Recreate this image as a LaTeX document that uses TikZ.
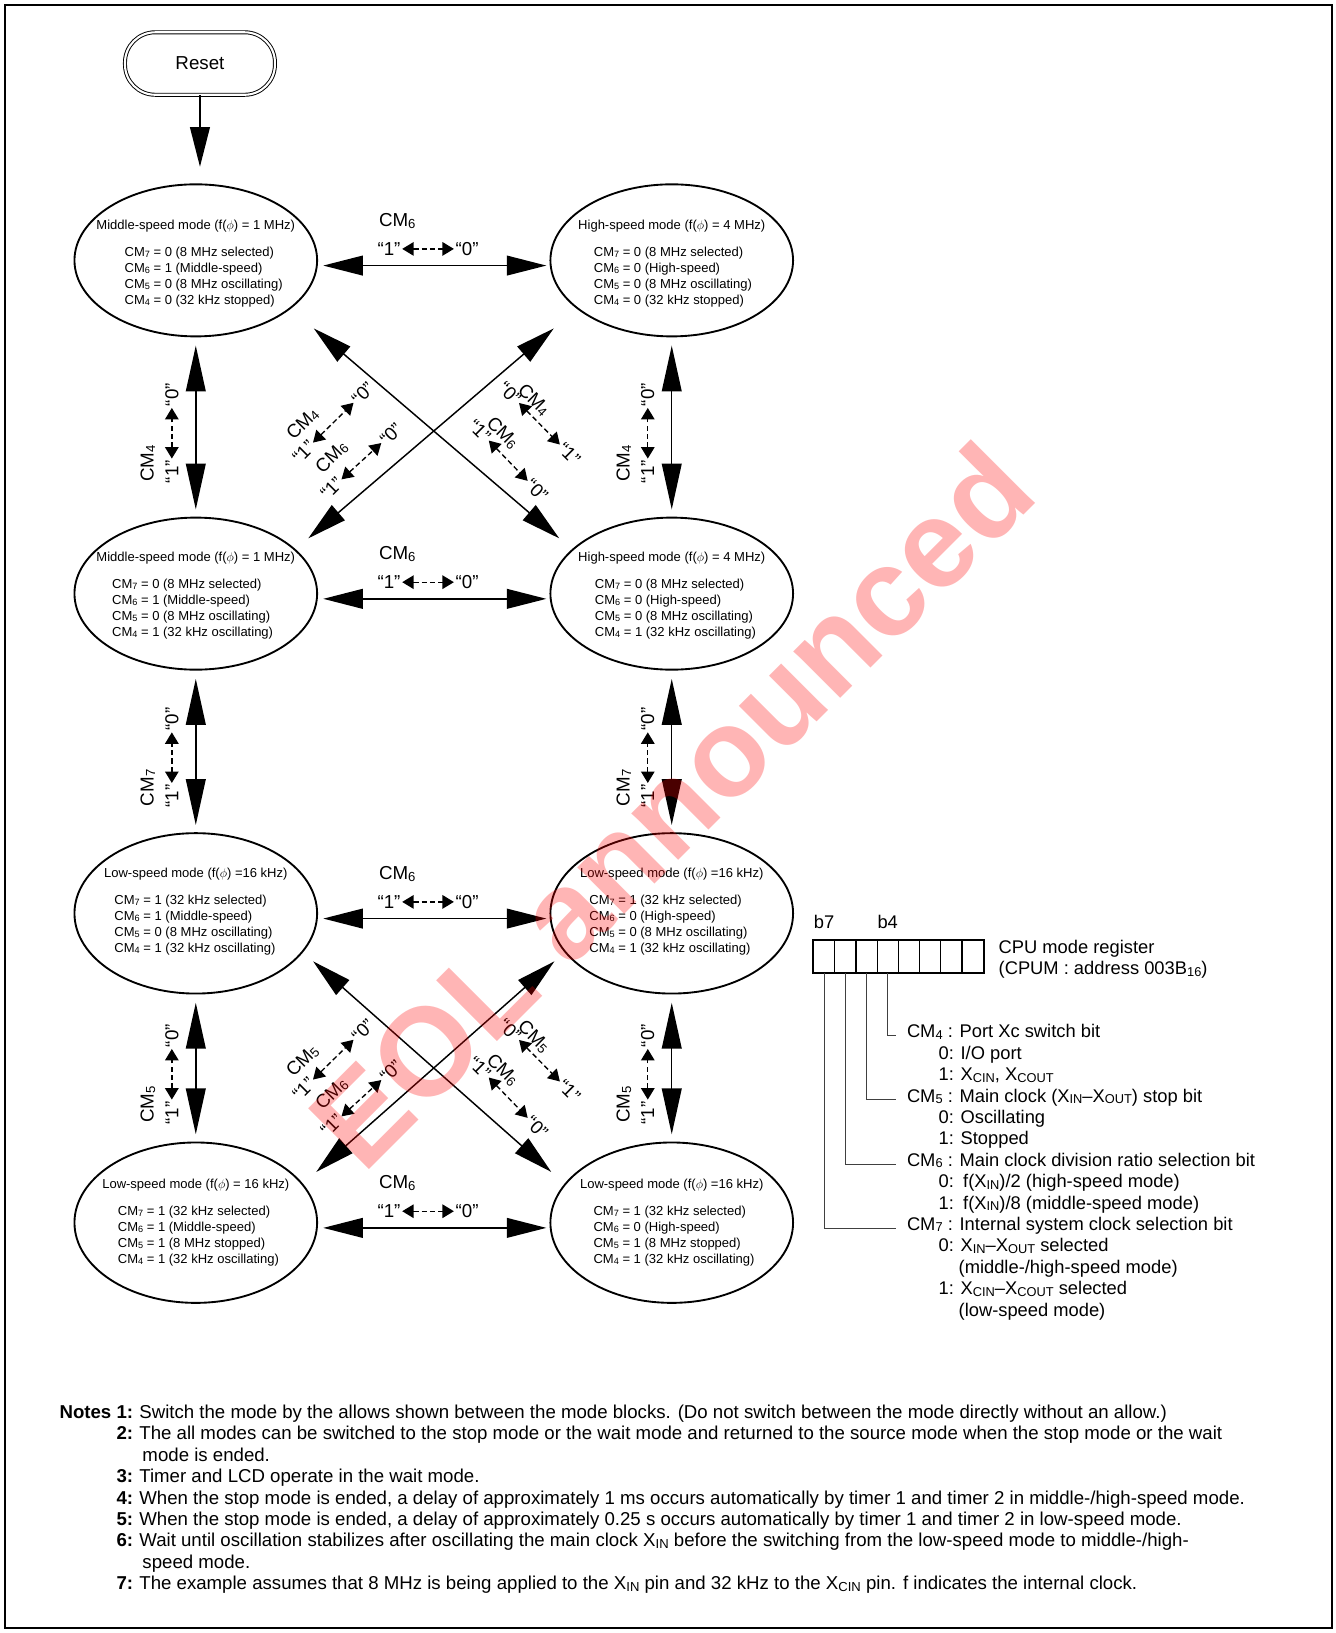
\documentclass[tikz,border=0pt]{standalone}
\usepackage{fontspec}
\setmainfont{Liberation Sans}
\usepackage{graphicx}
\usetikzlibrary{arrows.meta,positioning,calc,shapes.geometric}
\newcommand{\sbt}[1]{\raisebox{-0.15ex}{\scalebox{0.7}{#1}}}
\newcommand{\phis}{$\phi$}
\newcommand{\modelines}[6]{#1\\[11pt]\hspace*{#2}CM\sbt7 = #3\\\hspace*{#2}CM\sbt6 = #4\\
  \hspace*{#2}CM\sbt5 = #5\\\hspace*{#2}CM\sbt4 = #6}
\tikzset{
  reset/.style={draw, rounded corners=29pt, double, double distance=2pt, line width=0.9pt,
    minimum width=144pt, minimum height=60pt, font=\fontsize{18}{20}\selectfont},
  modebox/.style={draw, ellipse, line width=1.8pt, minimum width=233pt, minimum height=146pt,
    inner sep=0pt},
  modetext/.style={align=left, inner sep=0pt, font=\fontsize{12.5}{15.3}\selectfont},
  bigarrow/.style={line width=1.4pt, {Triangle[length=38pt,width=19pt]}-{Triangle[length=38pt,width=19pt]}},
  vbigarrow/.style={line width=1.4pt, {Triangle[length=44pt,width=19pt]}-{Triangle[length=44pt,width=19pt]}},
  pairarrow/.style={line width=1.3pt, dash pattern=on 5pt off 3pt,
    {Triangle[length=11pt,width=13pt]}-{Triangle[length=11pt,width=13pt]}},
  lbl/.style={inner sep=1.5pt, font=\fontsize{18}{20}\selectfont},
  regcell/.style={draw, line width=1.2pt, minimum width=20.4pt, minimum height=31.3pt, inner sep=0pt},
  regtext/.style={inner sep=0pt, font=\fontsize{17.6}{20.55}\selectfont},
  leader/.style={line width=0.9pt, black!75},
  note/.style={inner sep=0pt, font=\fontsize{17.9}{20.55}\selectfont},
  wmark/.style={inner sep=0pt, font=\fontsize{120}{122}\selectfont\bfseries, text=red,
    text opacity=0.29},
}
\begin{document}
\begin{tikzpicture}[x=1pt, y=-1pt]
\useasboundingbox (0,0) rectangle (1282,1568);
\draw[line width=1.5pt] (5,5) rectangle (1279,1563);

% ---- mode blocks -----------------------------------------------------
\node[reset] (reset) at (192,61) {Reset};
\node[modebox] (ml1) at (188,250) {};
\node[modebox] (mr1) at (645,250) {};
\node[modebox] (ml2) at (188,570) {};
\node[modebox] (mr2) at (645,570) {};
\node[modebox, minimum height=154pt] (ml3) at (188,877) {};
\node[modebox, minimum height=154pt] (mr3) at (645,877) {};
\node[modebox, minimum height=154pt] (ml4) at (188,1174) {};
\node[modebox, minimum height=154pt] (mr4) at (645,1174) {};

\node[modetext] (tl1) at ([yshift=-3pt]ml1.center) {\modelines{Middle-speed mode (f(\phis) = 1 MHz)}{27pt}
  {0 (8 MHz selected)}{1 (Middle-speed)}{0 (8 MHz oscillating)}{0 (32 kHz stopped)}};
\node[modetext] (tr1) at ([yshift=-3pt]mr1.center) {\modelines{High-speed mode (f(\phis) = 4 MHz)}{15pt}
  {0 (8 MHz selected)}{0 (High-speed)}{0 (8 MHz oscillating)}{0 (32 kHz stopped)}};
\node[modetext] (tl2) at ([yshift=-2pt]ml2.center) {\modelines{Middle-speed mode (f(\phis) = 1 MHz)}{15pt}
  {0 (8 MHz selected)}{1 (Middle-speed)}{0 (8 MHz oscillating)}{1 (32 kHz oscillating)}};
\node[modetext] (tr2) at ([yshift=-2pt]mr2.center) {\modelines{High-speed mode (f(\phis) = 4 MHz)}{16pt}
  {0 (8 MHz selected)}{0 (High-speed)}{0 (8 MHz oscillating)}{1 (32 kHz oscillating)}};
\node[modetext] (tl3) at ([yshift=2pt]ml3.center) {\modelines{Low-speed mode (f(\phis) =16 kHz)}{10pt}
  {1 (32 kHz selected)}{1 (Middle-speed)}{0 (8 MHz oscillating)}{1 (32 kHz oscillating)}};
\node[modetext] (tr3) at ([yshift=2pt]mr3.center) {\modelines{Low-speed mode (f(\phis) =16 kHz)}{9pt}
  {1 (32 kHz selected)}{0 (High-speed)}{0 (8 MHz oscillating)}{1 (32 kHz oscillating)}};
\node[modetext] (tl4) at (ml4) {\modelines{Low-speed mode (f(\phis) = 16 kHz)}{15pt}
  {1 (32 kHz selected)}{1 (Middle-speed)}{1 (8 MHz stopped)}{1 (32 kHz oscillating)}};
\node[modetext] (tr4) at (mr4) {\modelines{Low-speed mode (f(\phis) =16 kHz)}{13pt}
  {1 (32 kHz selected)}{0 (High-speed)}{1 (8 MHz stopped)}{1 (32 kHz oscillating)}};

\draw[line width=1.4pt, -{Triangle[length=38pt,width=19pt]}, shorten >=16pt]
  (reset.south) -- (reset.south |- ml1.north);

% ---- horizontal transitions (CM6) ------------------------------------
\foreach \r in {1,...,4}{
  \draw[bigarrow, shorten <=5pt, shorten >=3pt] ([yshift=-5pt]ml\r.east) -- ([yshift=-5pt]mr\r.west);
  \coordinate (hm\r) at ($(ml\r.east)!.5!(mr\r.west)$);
  \node[lbl] (hc\r) at ($(hm\r)+(-35,-38)$) {CM\sbt6};
  \node[lbl] (ho\r) at ($(hm\r)+(-43,-11)$) {“1”};
  \node[lbl] (hz\r) at ($(hm\r)+(32,-11)$) {“0”};
  \draw[pairarrow] (ho\r) -- (hz\r);
}

% ---- vertical transitions --------------------------------------------
\foreach \a/\b/\c in {ml1/ml2/4, mr1/mr2/4, ml2/ml3/7, mr2/mr3/7, ml3/ml4/5, mr3/mr4/5}{
  \draw[vbigarrow, shorten <=8pt, shorten >=7pt] (\a.south) -- (\b.north);
  \coordinate (vm\a) at ($(\a.south)!.5!(\b.north)$);
  \node[lbl, rotate=90] (vc\a) at ($(vm\a)+(-46,35)$) {CM\sbt{\c}};
  \node[lbl, rotate=90] (vo\a) at ($(vm\a)+(-23,43)$) {“1”};
  \node[lbl, rotate=90] (vz\a) at ($(vm\a)+(-23,-31)$) {“0”};
  \draw[pairarrow] (vo\a) -- (vz\a);
}

% ---- diagonal transitions --------------------------------------------
\draw[bigarrow, shorten <=29pt, shorten >=16pt] (ml1.333) -- (mr2.156);
\draw[bigarrow, shorten <=29pt, shorten >=16pt] (mr1.207) -- (ml2.24);
\draw[bigarrow, shorten <=13pt, shorten >=17pt] (ml3.340) -- (mr4.160);
\draw[bigarrow, shorten <=13pt, shorten >=17pt] (mr3.200) -- (ml4.20);
\coordinate (x1) at (intersection of ml1.333--mr2.156 and mr1.207--ml2.24);
\coordinate (x3) at (intersection of ml3.340--mr4.160 and mr3.200--ml4.20);

\foreach \k/\c in {1/4, 3/5}{
  \begin{scope}[shift={(x\k)}]
    \node[lbl, rotate=45] (dca\k) at (-126,-7) {CM\sbt{\c}};
    \node[lbl, rotate=45] (doa\k) at (-125,20) {“1”};
    \node[lbl, rotate=45] (dza\k) at (-68,-36) {“0”};
    \draw[pairarrow] (doa\k) -- (dza\k);
    \node[lbl, rotate=45] (dcb\k) at (-98,25) {CM\sbt6};
    \node[lbl, rotate=45] (dob\k) at (-98,55) {“1”};
    \node[lbl, rotate=45] (dzb\k) at (-41,3) {“0”};
    \draw[pairarrow] (dob\k) -- (dzb\k);
    \node[lbl, rotate=-45] (dzc\k) at (73,-36) {“0”};
    \node[lbl, rotate=-45] (dcc\k) at (96,-30) {CM\sbt{\c}};
    \node[lbl, rotate=-45] (doc\k) at (130,22) {“1”};
    \draw[pairarrow] (dzc\k) -- (doc\k);
    \node[lbl, rotate=-45] (dod\k) at (44,0) {“1”};
    \node[lbl, rotate=-45] (dcd\k) at (66,2) {CM\sbt6};
    \node[lbl, rotate=-45] (dzd\k) at (99,57) {“0”};
    \draw[pairarrow] (dod\k) -- (dzd\k);
  \end{scope}
}

% ---- CPU mode register -----------------------------------------------
\foreach \i in {7,...,0}
  \node[regcell] (bit\i) at ({791.2+(7-\i)*20.4},918.4) {};
\draw[line width=2pt] (bit7.north west) rectangle (bit0.south east);
\node[regtext, above=10pt of bit7] (lb7) {b7};
\node[regtext, above=10pt of bit4] (lb4) {b4};
\node[regtext, anchor=base west] (cpum) at (958.7,915.5)
  {\begin{tabular}[t]{@{}l@{}}CPU mode register\\(CPUM : address 003B\sbt{16})\end{tabular}};

\node[regtext, anchor=base west] (cm4) at (870.7,996.5)
  {\begin{tabular}[t]{@{}l@{}}CM\sbt4 : Port Xc switch bit\\
   \hspace*{30.3pt}0: I/O port\\
   \hspace*{30.3pt}1: X\sbt{CIN}, X\sbt{COUT}\end{tabular}};
\node[regtext, anchor=base west] (cm5) at (870.7,1058.15)
  {\begin{tabular}[t]{@{}l@{}}CM\sbt5 : Main clock (X\sbt{IN}--X\sbt{OUT}) stop bit\\
   \hspace*{30.3pt}0: Oscillating\\
   \hspace*{30.3pt}1: Stopped\end{tabular}};
\node[regtext, anchor=base west] (cm6) at (870.7,1119.8)
  {\begin{tabular}[t]{@{}l@{}}CM\sbt6 : Main clock division ratio selection bit\\
   \hspace*{30.3pt}0:\hspace{9pt}f(X\sbt{IN})/2 (high-speed mode)\\
   \hspace*{30.3pt}1:\hspace{9pt}f(X\sbt{IN})/8 (middle-speed mode)\end{tabular}};
\node[regtext, anchor=base west] (cm7) at (870.7,1181.45)
  {\begin{tabular}[t]{@{}l@{}}CM\sbt7 : Internal system clock selection bit\\
   \hspace*{30.3pt}0: X\sbt{IN}--X\sbt{OUT} selected\\
   \hspace*{49.6pt}(middle-/high-speed mode)\\
   \hspace*{30.3pt}1: X\sbt{CIN}--X\sbt{COUT} selected\\
   \hspace*{49.6pt}(low-speed mode)\end{tabular}};

\draw[leader] (bit4.south) |- ([xshift=-10pt,yshift=2pt]cm4.base west);
\draw[leader] (bit5.south) |- ([xshift=-10pt,yshift=2pt]cm5.base west);
\draw[leader] (bit6.south) |- ([xshift=-10pt,yshift=2pt]cm6.base west);
\draw[leader] (bit7.south) |- ([xshift=-10pt,yshift=2pt]cm7.base west);

% ---- notes -----------------------------------------------------------
\node[note, anchor=base west] (notes) at (57,1362)
  {\begin{tabular}[t]{@{}r@{\hspace{6pt}}l@{}}
   \textbf{Notes 1:} & Switch the mode by the allows shown between the mode blocks. (Do not switch between the mode directly without an allow.)\\
   \textbf{2:} & The all modes can be switched to the stop mode or the wait mode and returned to the source mode when the stop mode or the wait\\
    & \hspace*{3pt}mode is ended.\\
   \textbf{3:} & Timer and LCD operate in the wait mode.\\
   \textbf{4:} & When the stop mode is ended, a delay of approximately 1 ms occurs automatically by timer 1 and timer 2 in middle-/high-speed mode.\\
   \textbf{5:} & When the stop mode is ended, a delay of approximately 0.25 s occurs automatically by timer 1 and timer 2 in low-speed mode.\\
   \textbf{6:} & Wait until oscillation stabilizes after oscillating the main clock X\sbt{IN} before the switching from the low-speed mode to middle-/high-\\
    & \hspace*{3pt}speed mode.\\
   \textbf{7:} & The example assumes that 8 MHz is being applied to the X\sbt{IN} pin and 32 kHz to the X\sbt{CIN} pin. f indicates the internal clock.
  \end{tabular}};

% ---- watermark -------------------------------------------------------
\node[wmark, rotate=45] (eol) at (644,773) {EOL announced};

\end{tikzpicture}
\end{document}
